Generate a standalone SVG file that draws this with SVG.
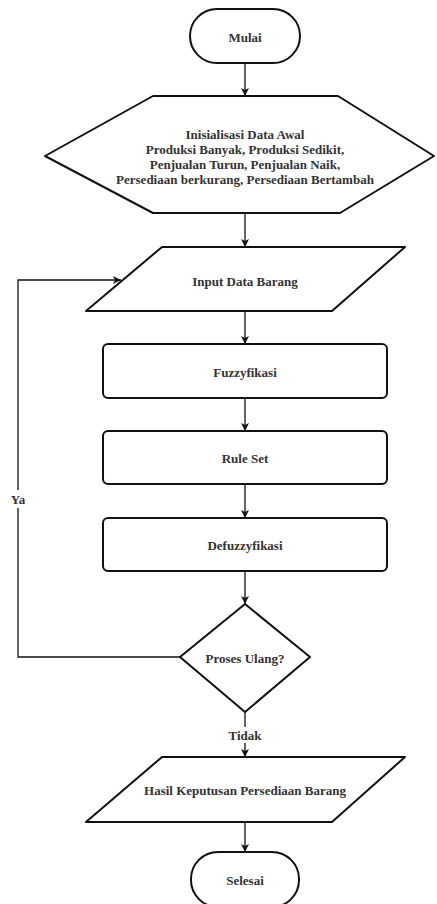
<svg xmlns="http://www.w3.org/2000/svg" width="437" height="904" viewBox="0 0 437 904">
<defs>
<marker id="arr" markerWidth="10" markerHeight="10" refX="8" refY="4" orient="auto" markerUnits="userSpaceOnUse">
<path d="M0,0 L8,4 L0,8 L2,4 z" fill="#111"/>
</marker>
<style>
.s{fill:#fff;stroke:#111;stroke-width:2;stroke-linejoin:round}
.t{font-family:"Liberation Serif","Times New Roman",serif;font-weight:bold;font-size:13px;fill:#333;text-anchor:middle;dominant-baseline:central}
.c{fill:none;stroke:#111;stroke-width:1.3}
</style>
</defs>
<rect width="437" height="904" fill="#fff"/>
<g id="connectors">
<line class="c" x1="245" y1="63" x2="245" y2="96" marker-end="url(#arr)"/>
<line class="c" x1="245" y1="213" x2="245" y2="247" marker-end="url(#arr)"/>
<line class="c" x1="245" y1="311" x2="245" y2="344" marker-end="url(#arr)"/>
<line class="c" x1="245" y1="398" x2="245" y2="431" marker-end="url(#arr)"/>
<line class="c" x1="245" y1="484" x2="245" y2="518" marker-end="url(#arr)"/>
<line class="c" x1="245" y1="571" x2="245" y2="604" marker-end="url(#arr)"/>
<polyline class="c" points="180,657 18,657 18,280 121,280" marker-end="url(#arr)"/>
<line class="c" x1="245" y1="712" x2="245" y2="757" marker-end="url(#arr)"/>
<line class="c" x1="245" y1="822" x2="245" y2="852" marker-end="url(#arr)"/>
<rect x="7" y="490" width="22" height="18" fill="#fff"/>
<text class="t" x="18" y="499">Ya</text>
<rect x="224" y="727" width="42" height="16" fill="#fff"/>
<text class="t" x="245" y="735">Tidak</text>
</g>
<g id="mulai">
<rect class="s" x="190" y="9" width="110" height="54" rx="27" ry="27"/>
<text class="t" x="245" y="37">Mulai</text>
</g>
<g id="inisialisasi">
<polygon class="s" points="153,96 338,96 434,156 340,213 153,213 45,156"/>
<text class="t" x="245" y="134">Inisialisasi Data Awal</text>
<text class="t" x="245" y="149">Produksi Banyak, Produksi Sedikit,</text>
<text class="t" x="245" y="164">Penjualan Turun, Penjualan Naik,</text>
<text class="t" x="245" y="179">Persediaan berkurang, Persediaan Bertambah</text>
</g>
<g id="input">
<polygon class="s" points="162,247 405,247 332,311 86,311"/>
<text class="t" x="245" y="281">Input Data Barang</text>
</g>
<g id="fuzzyfikasi">
<rect class="s" x="103" y="344" width="284" height="54" rx="5"/>
<text class="t" x="245" y="372">Fuzzyfikasi</text>
</g>
<g id="ruleset">
<rect class="s" x="103" y="431" width="284" height="53" rx="5"/>
<text class="t" x="245" y="458">Rule Set</text>
</g>
<g id="defuzzyfikasi">
<rect class="s" x="103" y="518" width="284" height="53" rx="5"/>
<text class="t" x="245" y="545">Defuzzyfikasi</text>
</g>
<g id="proses">
<polygon class="s" points="245,604 310,657 245,712 180,657"/>
<text class="t" x="245" y="658">Proses Ulang?</text>
</g>
<g id="hasil">
<polygon class="s" points="162,757 405,757 332,822 86,822"/>
<text class="t" x="245" y="790">Hasil Keputusan Persediaan Barang</text>
</g>
<g id="selesai">
<rect class="s" x="191" y="852" width="108" height="55" rx="27" ry="27"/>
<text class="t" x="245" y="880">Selesai</text>
</g>
</svg>
